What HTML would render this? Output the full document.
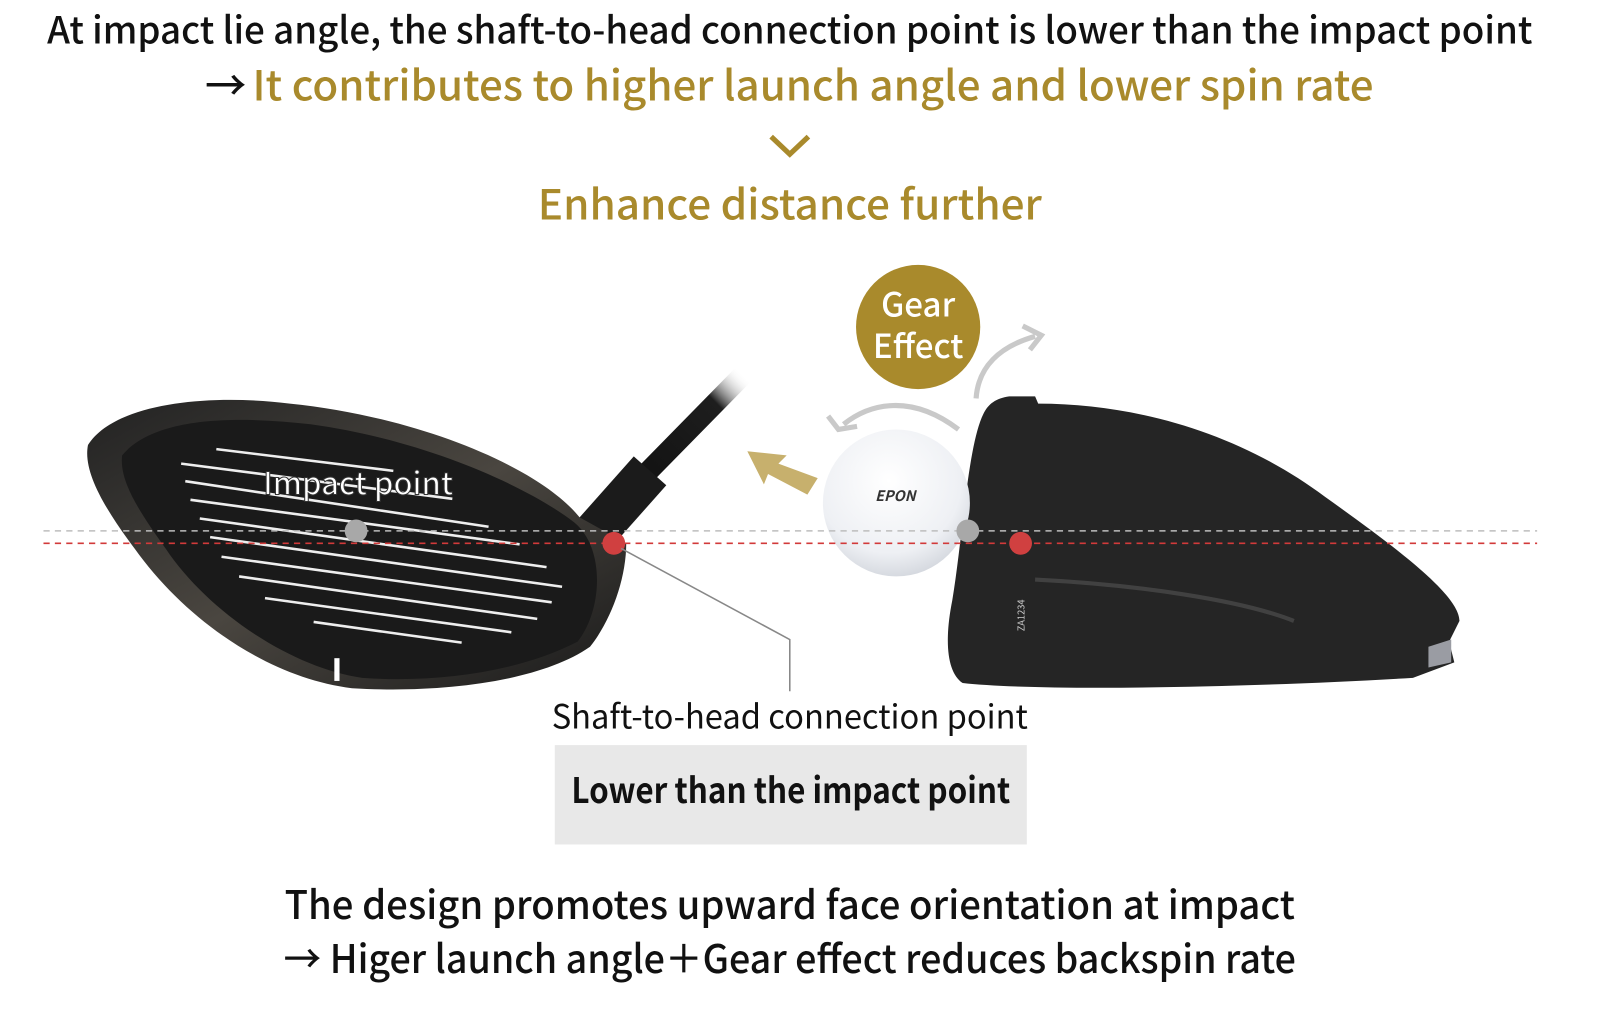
<!DOCTYPE html>
<html><head><meta charset="utf-8"><style>
html,body{margin:0;padding:0;background:#fff;}
svg{display:block;}
text{font-family:"Noto Sans CJK JP","Liberation Sans",sans-serif;}
</style></head><body>
<svg width="1622" height="1009" viewBox="0 0 1567 975" preserveAspectRatio="none" xmlns="http://www.w3.org/2000/svg">
<defs>
<linearGradient id="shaft" x1="0" y1="1" x2="1" y2="0"><stop offset="0" stop-color="#111"/><stop offset="0.75" stop-color="#1e1e1e"/><stop offset="1" stop-color="#fff" stop-opacity="0"/></linearGradient>
<radialGradient id="ball" cx="0.45" cy="0.35" r="0.7"><stop offset="0" stop-color="#fff"/><stop offset="0.7" stop-color="#eef0f4"/><stop offset="1" stop-color="#cfd3da"/></radialGradient>
<linearGradient id="rim" x1="0" y1="0" x2="1" y2="1"><stop offset="0" stop-color="#222"/><stop offset="0.5" stop-color="#4a4640"/><stop offset="1" stop-color="#1a1a1a"/></linearGradient>
</defs>
<text x="763" y="42" font-size="36" font-weight="500" fill="#111" text-anchor="middle" textLength="1435" lengthAdjust="spacingAndGlyphs">At impact lie angle, the shaft-to-head connection point is lower than the impact point</text>
<text x="198" y="97" font-size="40" font-weight="500" fill="#111">→</text>
<text x="244" y="97" font-size="40" font-weight="500" fill="#a98a2c" textLength="1083" lengthAdjust="spacingAndGlyphs">It contributes to higher launch angle and lower spin rate</text>
<polyline points="745,132 763,149 781,132" fill="none" stroke="#a98a2c" stroke-width="5"/>
<text x="763" y="212" font-size="40" font-weight="500" fill="#a98a2c" text-anchor="middle" textLength="487" lengthAdjust="spacingAndGlyphs">Enhance distance further</text>

<!-- Left club -->
<line x1="612" y1="470" x2="718" y2="362" stroke="url(#shaft)" stroke-width="20"/>
<line x1="572" y1="518" x2="628" y2="455" stroke="#1b1b1b" stroke-width="42"/>
<path d="M85,430 C110,390 200,380 280,390 C400,402 520,450 560,500 L605,525 C605,560 590,600 570,625 C520,660 420,670 340,665 C260,655 180,600 130,530 C100,490 80,455 85,430 Z" fill="url(#rim)"/>
<path d="M118,440 C150,402 230,402 300,410 C410,425 510,470 555,505 C585,530 582,590 558,620 C500,650 420,660 350,655 C280,645 200,590 160,530 C135,495 115,465 118,440 Z" fill="#1a1a1a"/>
<g stroke="#eee" stroke-width="2.5">
<line x1="209" y1="434" x2="380" y2="455"/><line x1="175" y1="448" x2="437" y2="482"/>
<line x1="179" y1="465" x2="472" y2="509"/><line x1="184" y1="483" x2="502" y2="526"/>
<line x1="193" y1="501" x2="528" y2="548"/><line x1="203" y1="519" x2="543" y2="567"/>
<line x1="214" y1="538" x2="533" y2="582"/><line x1="231" y1="557" x2="519" y2="598"/>
<line x1="256" y1="578" x2="494" y2="611"/><line x1="303" y1="601" x2="446" y2="621"/>
</g>
<rect x="323" y="636" width="5" height="22" fill="#fff"/>
<text x="346" y="478" font-size="30" font-weight="500" fill="#fff" stroke="#333" stroke-width="1" text-anchor="middle">Impact point</text>

<path d="M790,462 L780,478 L742,458 L738,468 L722,436 L760,440 L752,448 Z" fill="#c7b06d"/>

<!-- Right head -->
<path d="M975,383 L1000,383 L1003,390 C1100,390 1200,420 1280,480 C1350,530 1410,575 1410,600 L1400,620 L1405,640 L1365,655 C1200,665 1000,668 930,660 C915,650 912,620 920,580 C930,520 935,430 950,400 C955,390 962,385 975,383 Z" fill="#252525"/>
<path d="M1000,560 C1100,565 1200,580 1250,600" stroke="#555" stroke-width="4" fill="none" opacity="0.6"/>
<path d="M1380,625 L1402,618 L1402,640 L1380,645 Z" fill="#9a9ca3"/>
<text x="990" y="610" font-size="9" fill="#ccc" transform="rotate(-90 990 610)">ZA1234</text>

<path d="M926,415 C880,380 840,390 815,410" fill="none" stroke="#c9c9c9" stroke-width="5"/>
<polyline points="800,402 810,415 828,412" fill="none" stroke="#c9c9c9" stroke-width="5"/>
<path d="M943,385 C945,355 965,335 1000,325" fill="none" stroke="#c9c9c9" stroke-width="5"/>
<polyline points="988,315 1006,324 995,338" fill="none" stroke="#c9c9c9" stroke-width="5"/>

<circle cx="866" cy="486" r="71" fill="url(#ball)"/>
<text x="865" y="484" font-size="14" font-style="italic" font-weight="bold" fill="#333" text-anchor="middle">EPON</text>

<circle cx="887" cy="316" r="60" fill="#a98a2c"/>
<text x="887" y="306" font-size="32" font-weight="500" fill="#fff" text-anchor="middle">Gear</text>
<text x="887" y="346" font-size="32" font-weight="500" fill="#fff" text-anchor="middle">Effect</text>

<line x1="42" y1="513" x2="1485" y2="513" stroke="#bdbdbd" stroke-width="1.5" stroke-dasharray="6,5"/>
<line x1="42" y1="525" x2="1485" y2="525" stroke="#d23a3a" stroke-width="1.5" stroke-dasharray="6,5"/>
<circle cx="344" cy="513" r="11" fill="#a8a8a8"/>
<circle cx="935" cy="513" r="11" fill="#a8a8a8"/>
<circle cx="593" cy="525" r="11" fill="#d04040"/>
<circle cx="986" cy="525" r="11" fill="#d04040"/>

<polyline points="600,530 763,618 763,668" fill="none" stroke="#888" stroke-width="1.5"/>
<text x="763" y="704" font-size="32" fill="#111" text-anchor="middle" textLength="460" lengthAdjust="spacingAndGlyphs">Shaft-to-head connection point</text>
<rect x="536" y="720" width="456" height="96" fill="#e8e8e8"/>
<text x="764" y="776" font-size="34" fill="#111" font-weight="bold" text-anchor="middle" textLength="424" lengthAdjust="spacingAndGlyphs">Lower than the impact point</text>

<text x="763" y="888" font-size="38" font-weight="500" fill="#111" text-anchor="middle" textLength="976" lengthAdjust="spacingAndGlyphs">The design promotes upward face orientation at impact</text>
<text x="763" y="940" font-size="38" font-weight="500" fill="#111" text-anchor="middle" textLength="978" lengthAdjust="spacingAndGlyphs">→ Higer launch angle＋Gear effect reduces backspin rate</text>
</svg>
</body></html>
